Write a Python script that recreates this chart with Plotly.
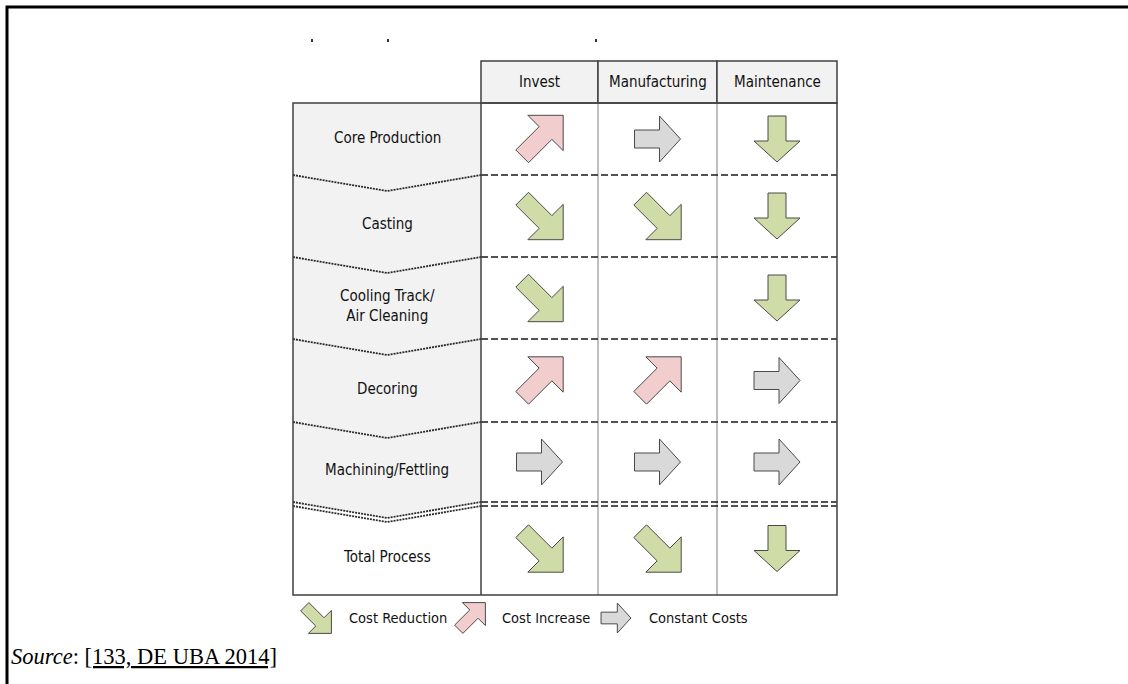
import math
import plotly.graph_objects as go

# ---------------- data ----------------
processes = ["Core Production", "Casting", "Cooling Track/<br>Air Cleaning",
             "Decoring", "Machining/Fettling", "Total Process"]
cost_types = ["Invest", "Manufacturing", "Maintenance"]
# trend codes: R = cost reduction (diagonal), D = cost reduction (down),
#              I = cost increase, C = constant costs, "" = no entry
invest = ["I", "R", "R", "I", "C", "R"]
manufacturing = ["C", "R", "", "I", "C", "R"]
maintenance = ["D", "D", "D", "C", "C", "D"]
legend_labels = ["Cost Reduction", "Cost Increase", "Constant Costs"]
legend_codes = ["R", "I", "C"]
source_label = "<i>Source</i>: <u>[133, DE UBA 2014]</u>"

# ---------------- layout geometry ----------------
W, H = 1128, 684
COL_X = [293, 481, 598, 717, 837]
HDR_TOP, HDR_BOT = 61, 103
ROW_Y = [103, 175, 257, 339, 422, 502, 595]
CHEV = 16
MIDX = (COL_X[0] + COL_X[1]) / 2

FONT = "DejaVu Sans Condensed, Liberation Sans Narrow, Arial Narrow, sans-serif"
TXT = "#111111"
GREEN, PINK, GRAY = "#d0dca8", "#f2cdcd", "#d9d9d9"
EDGE = "#4a4a4a"
STYLE = {
    "R": dict(kind="diag", ang=45, fill=GREEN),
    "I": dict(kind="diag", ang=-45, fill=PINK),
    "C": dict(kind="straight", ang=0, fill=GRAY),
    "D": dict(kind="straight", ang=90, fill=GREEN),
}
SHAPE_PARAMS = {"diag": (29, 25, 25, 9), "straight": (23, 21, 23, 9)}


def arrow_path(code, cx, cy, k=1.0):
    st = STYLE[code]
    a, h, hw, s = SHAPE_PARAMS[st["kind"]]
    pts = [(-a, -s), (a - h, -s), (a - h, -hw), (a, 0), (a - h, hw), (a - h, s), (-a, s)]
    t = math.radians(st["ang"])
    c, sn = math.cos(t), math.sin(t)
    rp = [(x * c - y * sn, x * sn + y * c) for x, y in pts]
    xs = [p[0] for p in rp]
    ys = [p[1] for p in rp]
    ox = (max(xs) + min(xs)) / 2
    oy = (max(ys) + min(ys)) / 2
    rp = [(cx + k * (x - ox), cy + k * (y - oy)) for x, y in rp]
    return "M " + " L ".join(f"{x:.2f},{y:.2f}" for x, y in rp) + " Z", st["fill"]


shapes = []
annotations = []

# outer frame
shapes.append(dict(type="path", path=f"M 7,{H + 5} L 7,7 L {W + 5},7",
                   line=dict(color="black", width=3)))

# tiny remnants of the cut-off title
for xx in [312, 388, 596]:
    shapes.append(dict(type="line", x0=xx, x1=xx, y0=39, y1=42,
                       line=dict(color="#333333", width=2)))

# left column grey chevron band
shapes.append(dict(type="path",
                   path=(f"M {COL_X[0]},{ROW_Y[0]} L {COL_X[1]},{ROW_Y[0]} L {COL_X[1]},{ROW_Y[5]} "
                         f"L {MIDX},{ROW_Y[5] + CHEV} L {COL_X[0]},{ROW_Y[5]} Z"),
                   fillcolor="#f2f2f2", line=dict(width=0), layer="below"))

# header cells
for i, name in enumerate(cost_types):
    shapes.append(dict(type="rect", x0=COL_X[i + 1], x1=COL_X[i + 2], y0=HDR_TOP, y1=HDR_BOT,
                       fillcolor="#f2f2f2", line=dict(color="#404040", width=1.5)))
    annotations.append(dict(x=(COL_X[i + 1] + COL_X[i + 2]) / 2, y=(HDR_TOP + HDR_BOT) / 2,
                            text=name, showarrow=False, xanchor="center", yanchor="middle",
                            font=dict(family=FONT, size=15, color=TXT)))

# inner vertical lines in body
for xx in COL_X[2:4]:
    shapes.append(dict(type="line", x0=xx, x1=xx, y0=ROW_Y[0], y1=ROW_Y[-1],
                       line=dict(color="#808080", width=1)))

# dashed row separators and chevron lines
for j, yy in enumerate(ROW_Y[1:-1]):
    offs = [0, 4] if j == len(ROW_Y) - 3 else [0]
    for o in offs:
        shapes.append(dict(type="line", x0=COL_X[1], x1=COL_X[-1], y0=yy + o, y1=yy + o,
                           line=dict(color="#1a1a1a", width=1.5, dash="7px,3px")))
        shapes.append(dict(type="path",
                           path=f"M {COL_X[0]},{yy + o} L {MIDX},{yy + o + CHEV} L {COL_X[1]},{yy + o}",
                           line=dict(color="#2a2a2a", width=1.8, dash="2px,1px")))

# table borders
shapes.append(dict(type="rect", x0=COL_X[0], x1=COL_X[-1], y0=ROW_Y[0], y1=ROW_Y[-1],
                   line=dict(color="#404040", width=1.5)))
shapes.append(dict(type="line", x0=COL_X[1], x1=COL_X[1], y0=ROW_Y[0], y1=ROW_Y[-1],
                   line=dict(color="#404040", width=1.5)))

# process labels
for r, name in enumerate(processes):
    top = ROW_Y[r] + (CHEV if r > 0 else 0)
    bot = ROW_Y[r + 1]
    cy = (top + bot) / 2 + (0 if r > 0 else -1)
    annotations.append(dict(x=MIDX, y=cy, text=name, showarrow=False,
                            xanchor="center", yanchor="middle",
                            font=dict(family=FONT, size=15, color=TXT)))

# arrows
for ci, col in enumerate([invest, manufacturing, maintenance]):
    cx = (COL_X[ci + 1] + COL_X[ci + 2]) / 2
    for r, code in enumerate(col):
        if not code:
            continue
        cy = (ROW_Y[r] + ROW_Y[r + 1]) / 2
        p, f = arrow_path(code, cx, cy)
        shapes.append(dict(type="path", path=p, fillcolor=f,
                           line=dict(color=EDGE, width=1)))

# legend
leg_arrow_x = [316, 470, 616]
leg_text_x = [347, 500, 647]
for code, label, ax, tx in zip(legend_codes, legend_labels, leg_arrow_x, leg_text_x):
    p, f = arrow_path(code, ax, 618, k=0.65)
    shapes.append(dict(type="path", path=p, fillcolor=f, line=dict(color=EDGE, width=1)))
    annotations.append(dict(x=tx, y=618, text=label, showarrow=False, xanchor="left",
                            yanchor="middle", font=dict(family=FONT, size=14.5, color=TXT)))

# source
annotations.append(dict(x=9, y=656, text=source_label, showarrow=False, xanchor="left",
                        yanchor="middle",
                        font=dict(family="Liberation Serif, Times New Roman, serif", size=22.5,
                                  color="black")))

fig = go.Figure()
fig.update_layout(
    width=W, height=H, autosize=False,
    margin=dict(l=0, r=0, t=0, b=0),
    paper_bgcolor="white", plot_bgcolor="white",
    xaxis=dict(range=[0, W], visible=False, fixedrange=True),
    yaxis=dict(range=[H, 0], visible=False, fixedrange=True),
    shapes=shapes, annotations=annotations, showlegend=False,
)
fig.write_html("out.html", config={"displayModeBar": False},
               post_script="document.body.style.margin='0';document.body.style.overflow='hidden';")
